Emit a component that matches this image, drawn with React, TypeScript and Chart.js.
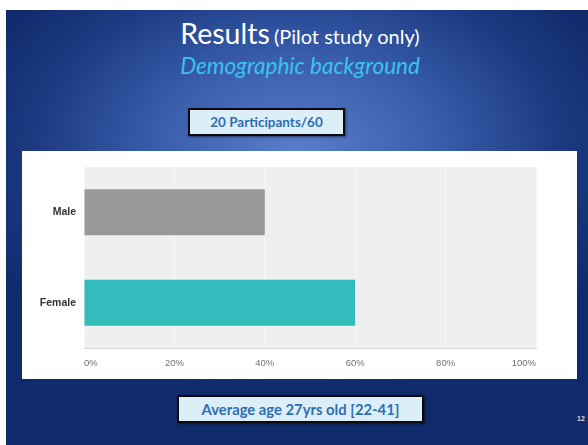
import React, { useEffect, useRef } from "react";
import { Chart, registerables } from "chart.js";

Chart.register(...registerables);

const categories = ["Male", "Female"];
const values = [40, 60];
const barColors = ["#999999", "#33bcbc"];
const xTicks = [0, 20, 40, 60, 80, 100];

const plotBg = {
  id: "plotBg",
  beforeDraw(chart: any) {
    const { ctx, chartArea } = chart;
    ctx.save();
    ctx.fillStyle = "#efefef";
    ctx.fillRect(chartArea.left, chartArea.top, chartArea.right - chartArea.left, chartArea.bottom - chartArea.top);
    ctx.restore();
  },
};

function BarChart() {
  const ref = useRef<HTMLCanvasElement>(null);
  useEffect(() => {
    const chart = new Chart(ref.current!, {
      type: "bar",
      data: {
        labels: categories,
        datasets: [
          {
            data: values,
            backgroundColor: barColors,
            borderWidth: 0,
            barPercentage: 0.51,
            categoryPercentage: 1,
          },
        ],
      },
      plugins: [plotBg],
      options: {
        indexAxis: "y",
        animation: false,
        responsive: false,
        maintainAspectRatio: false,
        layout: { padding: { left: 0, right: 41, top: 16, bottom: 0 } },
        plugins: { legend: { display: false }, tooltip: { enabled: false } },
        scales: {
          x: {
            min: 0,
            max: 100,
            afterBuildTicks: (s: any) => {
              s.ticks = xTicks.map((v) => ({ value: v }));
            },
            afterFit: (s: any) => {
              s.height = 31;
            },
            grid: { color: "#f7f7f7", lineWidth: 1, drawTicks: false },
            border: { color: "#d6d6d6", width: 1 },
            ticks: {
              align: "inner",
              padding: 10,
              color: "#707070",
              font: { family: "Liberation Sans", size: 9.5 },
              callback: (v: any) => v + "%",
            },
          },
          y: {
            afterFit: (s: any) => {
              s.width = 62;
            },
            grid: { display: false, drawTicks: false },
            border: { display: false },
            ticks: {
              padding: 8,
              color: "#333333",
              font: { family: "Liberation Sans", size: 10.5, weight: "bold" },
            },
          },
        },
      },
    });
    return () => chart.destroy();
  }, []);
  return <canvas ref={ref} width={555} height={228} style={{ display: "block", width: 555, height: 228 }} />;
}

const boxStyle: React.CSSProperties = {
  position: "absolute",
  background: "#dceef8",
  border: "2.5px solid #0a0a0a",
  boxSizing: "border-box",
  color: "#2e6fb4",
  fontFamily: "Lato, 'Open Sans', sans-serif",
  fontWeight: 700,
  display: "flex",
  alignItems: "center",
  justifyContent: "center",
  boxShadow: "1px 1px 2px rgba(0,0,0,0.5)",
};

export default function App() {
  return (
    <div style={{ position: "fixed", left: 0, top: 0, width: 588, height: 445, background: "#ffffff", overflow: "hidden" }}>
      <div
        style={{
          position: "absolute",
          left: 6,
          top: 10,
          width: 582,
          height: 435,
          background: "radial-gradient(ellipse 60% 55% at 50% 33%, #5a7ecb 0%, #3a5eac 40%, #1c3a82 75%, #102b6b 100%)",
        }}
      />
      <div
        style={{
          position: "absolute",
          left: 0,
          width: 600,
          top: 15,
          textAlign: "center",
          color: "#ffffff",
          fontFamily: "Lato, 'Open Sans', sans-serif",
          whiteSpace: "nowrap",
          lineHeight: "36px",
        }}
      >
        <span style={{ fontSize: 28.5 }}>Results</span>{"\u00a0"}<span style={{ fontSize: 20 }}>(Pilot study only)</span>
      </div>
      <div
        style={{
          position: "absolute",
          left: 0,
          width: 600,
          top: 52,
          textAlign: "center",
          color: "#39c3ee",
          fontFamily: "Lato, 'Open Sans', sans-serif",
          fontStyle: "italic",
          fontSize: 22.5,
          lineHeight: "28px",
          whiteSpace: "nowrap",
        }}
      >
        Demographic background
      </div>
      <div style={{ ...boxStyle, left: 188, top: 108, width: 157, height: 28, fontSize: 13.5 }}>20 Participants/60</div>
      <div style={{ position: "absolute", left: 22, top: 151, width: 555, height: 228, background: "#ffffff" }}>
        <BarChart />
      </div>
      <div style={{ ...boxStyle, left: 177, top: 395, width: 247, height: 28, fontSize: 14.8 }}>Average age 27yrs old [22-41]</div>
      <div
        style={{
          position: "absolute",
          left: 577,
          top: 415,
          color: "#dddddd",
          fontFamily: "Liberation Sans, sans-serif",
          fontWeight: 700,
          fontSize: 7,
        }}
      >
        12
      </div>
    </div>
  );
}
